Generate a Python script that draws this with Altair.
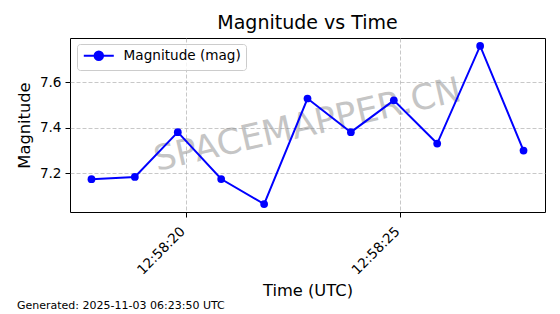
import altair as alt
import pandas as pd

# --- data ---
seconds = [17.81, 18.82, 19.82, 20.83, 21.83, 22.84, 23.85, 24.85, 25.86, 26.86, 27.87]  # seconds after 12:58:00 UTC
magnitude = [7.174, 7.184, 7.381, 7.175, 7.065, 7.529, 7.381, 7.521, 7.331, 7.760, 7.300]
series_name = "Magnitude (mag)"
x_tick_seconds = [20, 25]
x_tick_prefix = "12:58:"
y_ticks = [7.2, 7.4, 7.6]
x_domain = [17.31, 28.37]
y_domain = [7.030, 7.795]
title_text = "Magnitude vs Time"
x_title = "Time (UTC)"
y_title = "Magnitude"
footer_text = "Generated: 2025-11-03 06:23:50 UTC"
watermark_text = "SPACEMAPPER.CN"

df = pd.DataFrame({"t": seconds, "mag": magnitude, "series": [series_name] * len(seconds)})

FONT = "DejaVu Sans"
BLUE = "#0000ff"

x_enc = alt.X(
    "t:Q",
    scale=alt.Scale(domain=x_domain, nice=False, zero=False),
    axis=alt.Axis(
        values=x_tick_seconds,
        labelExpr=f"'{x_tick_prefix}' + datum.value",
        labelAngle=-45,
        labelAlign="right",
        labelBaseline="top",
        labelPadding=7,
        labelOffset=-8,
        title=x_title,
        titleX=237.5,
        titleY=83,
        titleBaseline="alphabetic",
        titleAlign="center",
        titleFontSize=16.3,
        grid=True,
    ),
)
y_enc = alt.Y(
    "mag:Q",
    scale=alt.Scale(domain=y_domain, nice=False, zero=False),
    axis=alt.Axis(
        values=y_ticks,
        format=".1f",
        labelPadding=4,
        title=y_title,
        titleX=-41,
        titleY=87,
        titleAngle=270,
        titleBaseline="alphabetic",
        titleAlign="center",
        titleFontSize=16.3,
        grid=True,
    ),
)

legend_symbol = "M-3,0H3M0.85,0A0.85,0.85,0,1,1,-0.85,0A0.85,0.85,0,1,1,0.85,0Z"
color_enc = alt.Color(
    "series:N",
    scale=alt.Scale(domain=[series_name], range=[BLUE]),
    legend=alt.Legend(
        title=None,
        orient="none",
        legendX=7,
        legendY=6,
        padding=5,
        fillColor="rgba(255,255,255,0.8)",
        strokeColor="#cccccc",
        cornerRadius=3,
        symbolType=legend_symbol,
        symbolSize=100,
        symbolStrokeWidth=2,
        symbolFillColor=BLUE,
        symbolStrokeColor=BLUE,
        symbolOffset=10,
        labelOffset=18,
        labelFont=FONT,
        labelFontSize=13.6,
        labelColor="black",
    ),
)

base = alt.Chart(df)

watermark = alt.Chart(pd.DataFrame({"w": [watermark_text]})).mark_text(
    font=FONT, fontSize=35, angle=347, align="center", baseline="middle",
    color="gray", opacity=0.45,
).encode(text="w:N", x=alt.value(237.5), y=alt.value(87))

line = base.mark_line(strokeWidth=2).encode(x=x_enc, y=y_enc, color=color_enc)
points = base.mark_point(filled=True, size=60, opacity=1).encode(x=x_enc, y=y_enc, color=color_enc)

footer = alt.Chart(pd.DataFrame({"f": [footer_text]})).mark_text(
    font=FONT, fontSize=11, align="left", baseline="alphabetic", color="black",
).encode(text="f:N", x=alt.value(-53), y=alt.value(270.5))

chart = alt.layer(watermark, line, points, footer).properties(
    width=475,
    height=174,
    background="white",
    title=alt.TitleParams(
        text=title_text, font=FONT, fontSize=19, fontWeight="normal", color="black",
        anchor="middle", baseline="alphabetic", offset=8, dy=18,
    ),
    autosize=alt.AutoSizeParams(type="none"),
    padding={"left": 70, "top": 38, "right": 15, "bottom": 102},
).configure_view(
    stroke="black", strokeWidth=1,
).configure_axis(
    labelFont=FONT, labelFontSize=13.6, labelColor="black",
    titleFont=FONT, titleColor="black", titleFontWeight="normal",
    domain=False, tickColor="black", tickSize=5, tickWidth=1,
    gridColor="#b0b0b0", gridOpacity=0.7, gridDash=[4, 2], gridWidth=1,
)

chart.save("out.html", embed_options={"renderer": "svg", "actions": False})
